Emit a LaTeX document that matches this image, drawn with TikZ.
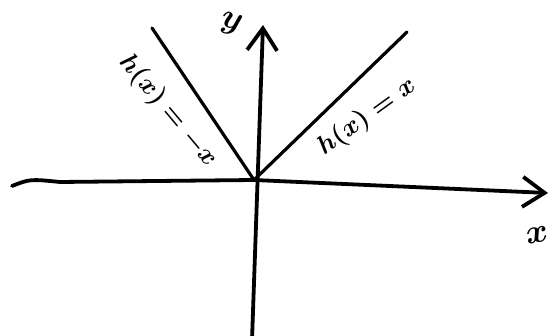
\documentclass[tikz,border=0pt]{standalone}
\usetikzlibrary{positioning, arrows.meta}

\begin{document}
\begin{tikzpicture}[
    x=1pt, y=-1pt,
    axis/.style={
        line width=3.8pt,
        line cap=round,
        -{Straight Barb[length=22pt, width=30pt, line width=3.8pt]}
    },
    graph_line/.style={
        line width=3.2pt,
        line cap=round
    },
    label_text/.style={
        font=\boldmath,
        scale=2.6,
        inner sep=0pt
    },
    axis_text/.style={
        font=\boldmath,
        scale=3.4,
        inner sep=0pt
    }
]
    \useasboundingbox (0,0) rectangle (552,336);

    % Points
    \coordinate (origin) at (254,180);
    \coordinate (xleft) at (12,186);
    \coordinate (xright) at (548,193);
    \coordinate (ybot) at (252,340);
    \coordinate (ytop) at (263,25);
    \coordinate (lend) at (152,28);
    \coordinate (rend) at (407,32);

    % Axes
    \draw[axis] (xleft) .. controls (30,179) .. (60,182) -- (origin) -- (xright);
    \draw[axis] (ybot) -- (ytop);

    % Graph
    \draw[graph_line] (origin) -- (lend);
    \draw[graph_line] (origin) -- (rend);

    % Labels
    \node[axis_text, rotate=-15] (lbl_y) at (231,24) {$y$};
    \node[axis_text, rotate=10] (lbl_x) at (537,235) {$x$};
    \node[label_text, rotate=-50] (lbl_neg) at (168,111) {$h(x)=-x$};
    \node[label_text, rotate=36] (lbl_pos) at (367,117) {$h(x)=x$};

\end{tikzpicture}
\end{document}
